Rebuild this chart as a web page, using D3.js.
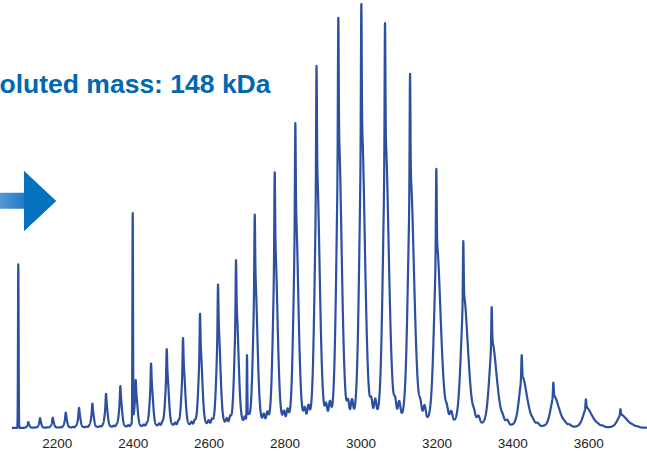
<!DOCTYPE html>
<html>
<head>
<meta charset="utf-8">
<script src="https://cdn.jsdelivr.net/npm/d3@7"></script>
<style>
  html, body { margin: 0; padding: 0; background: #fff; }
  svg { display: block; }
</style>
</head>
<body>
<svg id="chart" width="647" height="456"></svg>
<script>
// Apex m/z of each charge-state peak in the envelope and its relative intensity (%)
const chargeMz = [2125.2, 2156.0, 2189.5, 2223.7, 2258.7, 2293.8, 2329.8, 2367.5, 2408.0, 2448.4,
                  2489.7, 2532.6, 2577.4, 2624.8, 2672.2, 2721.5, 2774.1, 2828.4, 2884.2, 2941.6,
                  3002.2, 3064.6, 3130.5, 3199.7, 3270.8, 3345.6, 3424.6, 3507.9, 3593.7, 3684.6];
const chargeInt = [1.4, 2.3, 2.4, 3.6, 4.7, 5.7, 8.0, 9.8, 11.2, 15.1,
                   18.5, 21.1, 26.8, 33.7, 39.4, 50.1, 60.1, 71.7, 85.2, 96.7,
                   100.0, 95.5, 83.4, 60.9, 43.9, 28.4, 17.1, 10.6, 6.7, 4.4];

// Narrow single spikes outside the envelope (apex m/z, apex intensity %)
const spikeMz = [2098.9, 2400.2, 2701.2];
const spikeInt = [39.2, 51.4, 17.3];

const tickValues = [2200, 2400, 2600, 2800, 3000, 3200, 3400, 3600];
const titleText = "Deconvoluted mass: 148 kDa";
const mzRange = [2082, 3756];

const svg = d3.select("#chart");
const x = d3.scaleLinear().domain([2200, 3600]).range([56.7, 588.3]);
const y = d3.scaleLinear().domain([0, 100]).range([428, 7]);

// Peak shape: broad asymmetric body with Lorentzian wings, a sharp apex and two small adduct bumps
function bodyShape(m, c, k) {
  const d = m - (c + 1.5 * k);
  const s = d < 0 ? 6.5 * k : 8.5 * Math.pow(k, 1.8);
  const g = Math.exp(-d * d / (2 * s * s));
  const gam = 8 * k;
  const l = 1 / (1 + (d / gam) * (d / gam));
  return 0.72 * g + 0.28 * l;
}
function adducts(m, c, k) {
  const s = 3 * k, a = c * 1.0088, b = c * 1.0122;
  return 0.035 * Math.exp(-((m - a) ** 2) / (2 * s * s)) +
         0.04 * Math.exp(-((m - b) ** 2) / (2 * s * s));
}
function chargePeak(m, c, h) {
  const k = (c / 3000) ** 2;
  const bodyAmp = 0.7 * h;
  const apexAmp = h - bodyAmp * bodyShape(c, c, k);
  return bodyAmp * bodyShape(m, c, k) + apexAmp * Math.exp(-((m - c) ** 2) / 2) + h * adducts(m, c, k);
}
function envelope(m) {
  let v = 0;
  for (let i = 0; i < chargeMz.length; i++) {
    if (Math.abs(m - chargeMz[i]) < 900) v += chargePeak(m, chargeMz[i], chargeInt[i]);
  }
  return v;
}
// spike amplitude sits on top of whatever the envelope already gives at that m/z
const spikeAmp = spikeMz.map((c, i) => Math.max(0, spikeInt[i] - envelope(c)));
function spectrum(m) {
  let v = envelope(m);
  for (let i = 0; i < spikeMz.length; i++) {
    v += spikeAmp[i] * Math.exp(-((m - spikeMz[i]) ** 2) / (2 * 0.8 * 0.8));
  }
  return v;
}

const profile = d3.range(mzRange[0], mzRange[1], 0.3).map(m => [m, spectrum(m)]);

svg.append("rect").attr("width", 647).attr("height", 456).attr("fill", "#fff");

// spectrum trace
svg.append("path")
  .datum(profile)
  .attr("fill", "none")
  .attr("stroke", "#2c4f9f")
  .attr("stroke-width", 2.2)
  .attr("stroke-linejoin", "round")
  .attr("d", d3.line().x(d => x(d[0])).y(d => y(d[1])));

// m/z axis (labels only)
const axis = svg.append("g")
  .attr("transform", "translate(0,435)")
  .call(d3.axisBottom(x).tickValues(tickValues).tickSize(0).tickPadding(3).tickFormat(d3.format("d")));
axis.select(".domain").remove();
axis.attr("font-family", "Liberation Sans, Arial, Helvetica, sans-serif")
  .attr("font-size", "13.5px");
axis.selectAll("text").attr("fill", "#231f20");

// title
svg.append("text")
  .attr("x", 270.5)
  .attr("y", 93.3)
  .attr("text-anchor", "end")
  .attr("font-family", "Liberation Sans, Arial, Helvetica, sans-serif")
  .attr("font-weight", "bold")
  .attr("font-size", "26.5px")
  .attr("fill", "#0067b1")
  .text(titleText);

// arrow pointing into the spectrum
const defs = svg.append("defs");
const grad = defs.append("linearGradient")
  .attr("id", "arrowFill")
  .attr("gradientUnits", "userSpaceOnUse")
  .attr("x1", -10).attr("y1", 0).attr("x2", 34).attr("y2", 0);
grad.append("stop").attr("offset", "0%").attr("stop-color", "#6aa3da");
grad.append("stop").attr("offset", "100%").attr("stop-color", "#0b70be");

svg.append("path")
  .attr("d", "M0,192.7 L24,192.7 L24,171 L56,201 L24,231 L24,208.7 L0,208.7 Z")
  .attr("fill", "url(#arrowFill)");
svg.append("path")
  .attr("d", "M24,171 L56,201 L24,231 Z")
  .attr("fill", "#0572bd");
</script>
</body>
</html>
